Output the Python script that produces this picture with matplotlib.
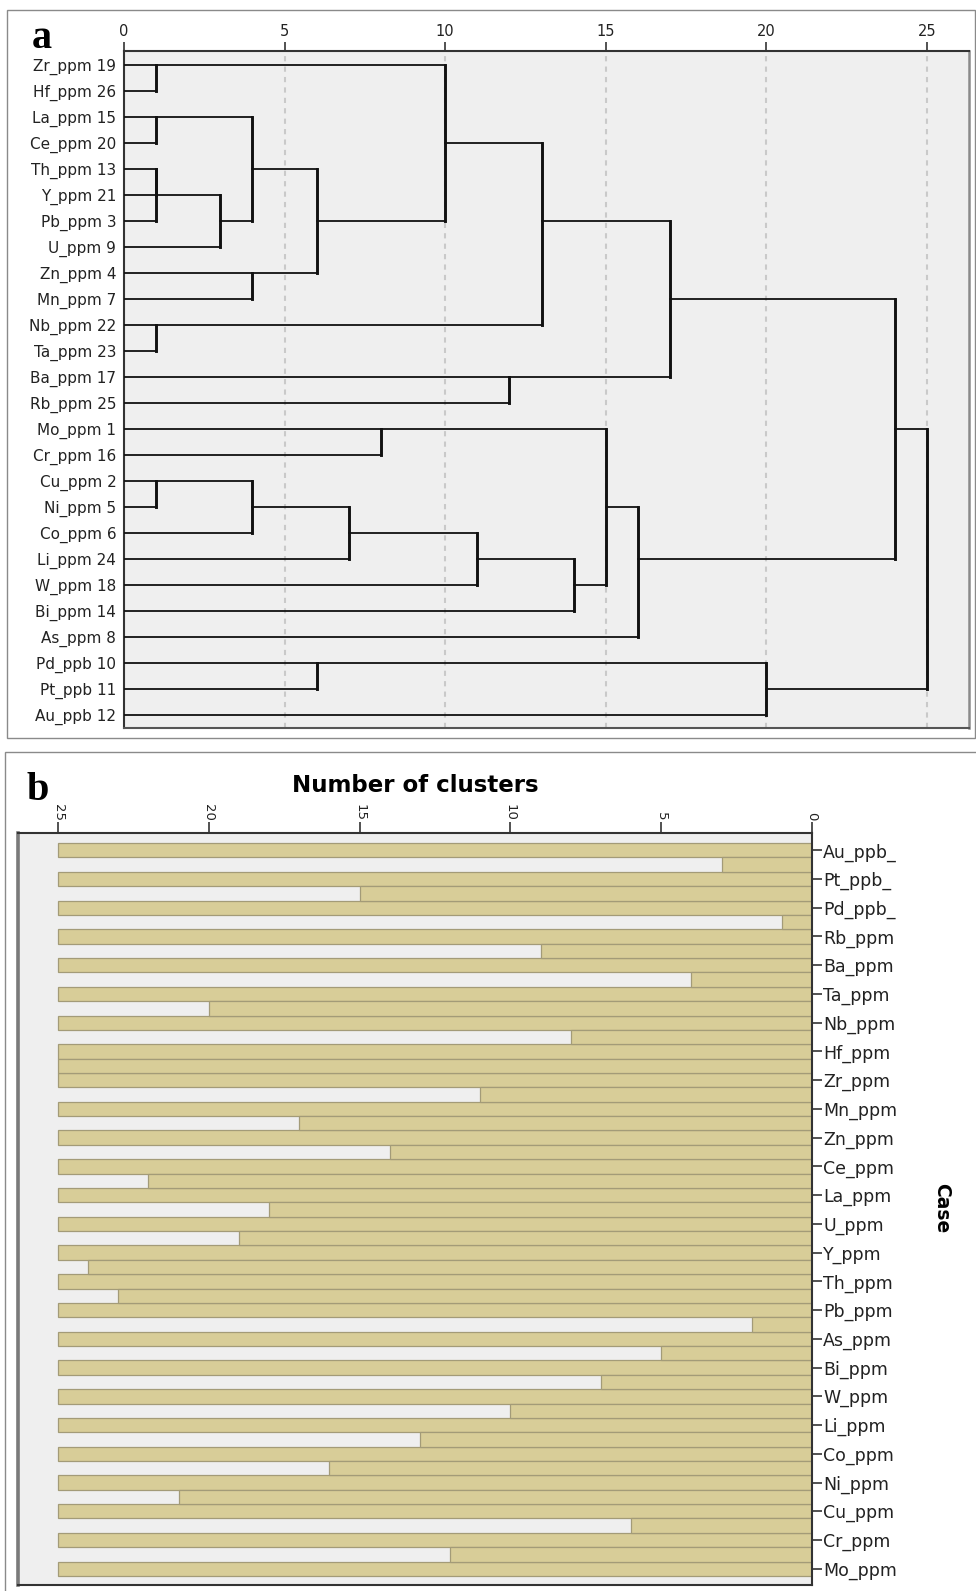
import matplotlib
matplotlib.use("Agg")
import matplotlib.pyplot as plt
from matplotlib.patches import Rectangle

# ---------------- data ----------------
leaf_labels = ["Zr_ppm 19", "Hf_ppm 26", "La_ppm 15", "Ce_ppm 20", "Th_ppm 13",
               "Y_ppm 21", "Pb_ppm 3", "U_ppm 9", "Zn_ppm 4", "Mn_ppm 7",
               "Nb_ppm 22", "Ta_ppm 23", "Ba_ppm 17", "Rb_ppm 25", "Mo_ppm 1",
               "Cr_ppm 16", "Cu_ppm 2", "Ni_ppm 5", "Co_ppm 6", "Li_ppm 24",
               "W_ppm 18", "Bi_ppm 14", "As_ppm 8", "Pd_ppb 10", "Pt_ppb 11",
               "Au_ppb 12"]
# merges: rows of the two clusters joined and rescaled distance
merge_a = [0, 2, 4, 4, 5, 2, 8, 4, 0, 10, 3, 12, 6, 14, 16, 16, 17, 18, 19, 14, 17, 23, 23, 9, 14]
merge_b = [1, 3, 5, 6, 7, 6, 9, 8, 6, 11, 10, 13, 12, 15, 17, 18, 19, 20, 21, 20, 22, 24, 25, 19, 24]
merge_dist = [1, 1, 1, 1, 3, 4, 4, 6, 10, 1, 13, 12, 17, 8, 1, 4, 7, 11, 14, 15, 16, 6, 20, 24, 25]
dendro_ticks = [0, 5, 10, 15, 20, 25]

case_labels = ["Au_ppb_", "Pt_ppb_", "Pd_ppb_", "Rb_ppm", "Ba_ppm", "Ta_ppm",
               "Nb_ppm", "Hf_ppm", "Zr_ppm", "Mn_ppm", "Zn_ppm", "Ce_ppm",
               "La_ppm", "U_ppm", "Y_ppm", "Th_ppm", "Pb_ppm", "As_ppm",
               "Bi_ppm", "W_ppm", "Li_ppm", "Co_ppm", "Ni_ppm", "Cu_ppm",
               "Cr_ppm", "Mo_ppm"]
# number of clusters up to which adjacent cases stay joined
join_clusters = [3, 15, 1, 9, 4, 20, 8, 25, 11, 17, 14, 22, 18, 19, 24, 23,
                 2, 5, 7, 10, 13, 16, 21, 6, 12]
n_clusters_max = 25
icicle_ticks = [0, 5, 10, 15, 20, 25]

# ---------------- figure ----------------
W, H = 976, 1591
fig = plt.figure(figsize=(W / 100, H / 100), dpi=100)
fig.patch.set_facecolor("white")


def fx(px):
    return px / W


def fy(py):
    return 1 - py / H


# panel frames
fig.add_artist(Rectangle((fx(7), fy(738)), fx(975) - fx(7), fy(10) - fy(738),
                         transform=fig.transFigure, fill=False,
                         edgecolor="#8a8a8a", lw=1.0))
fig.add_artist(Rectangle((fx(5), fy(1600)), fx(985) - fx(5), fy(752) - fy(1600),
                         transform=fig.transFigure, fill=False,
                         edgecolor="#8a8a8a", lw=1.0))

# ---------------- panel a: dendrogram ----------------
axa = fig.add_axes([fx(124), fy(728), fx(969) - fx(124), fy(51) - fy(728)])
axa.set_facecolor("#efefef")
axa.set_xlim(0, 845 / 32.12)
axa.set_ylim(25.5, -0.54)

for v in dendro_ticks[1:]:
    axa.axvline(v, color="#c9c9c9", lw=1.5, linestyle=(0, (2.5, 2.5)), zorder=1)

state = {}
for a, b, d in zip(merge_a, merge_b, merge_dist):
    xa = state.pop(a, 0)
    xb = state.pop(b, 0)
    axa.plot([xa, d], [a, a], color="#111111", lw=1.3, solid_capstyle="projecting", zorder=3)
    axa.plot([xb, d], [b, b], color="#111111", lw=1.3, solid_capstyle="projecting", zorder=3)
    axa.plot([d, d], [a, b], color="#111111", lw=2.1, solid_capstyle="projecting", zorder=3)
    state[(a + b) // 2] = d

axa.xaxis.tick_top()
axa.set_xticks(dendro_ticks)
axa.set_xticklabels([str(t) for t in dendro_ticks])
axa.tick_params(axis="x", direction="out", length=6.5, width=1.2, color="#333333",
                labelsize=10.5, pad=2, labelcolor="#222222")
axa.set_yticks(range(len(leaf_labels)))
axa.set_yticklabels(leaf_labels)
axa.tick_params(axis="y", length=0, labelsize=11, pad=5.5, labelcolor="#222222")
for s in ["top", "left"]:
    axa.spines[s].set_color("#333333")
    axa.spines[s].set_linewidth(1.5)
axa.spines["right"].set_color("#8a8a8a")
axa.spines["right"].set_linewidth(1.8)
axa.spines["bottom"].set_color("#555555")
axa.spines["bottom"].set_linewidth(1.5)

fig.text(fx(42), fy(48), "a", fontsize=29, fontweight="bold",
         family="Liberation Serif", ha="center", va="baseline")

# ---------------- panel b: icicle ----------------
axb = fig.add_axes([fx(18), fy(1585), fx(812) - fx(18), fy(833) - fy(1585)])
axb.set_facecolor("#efefef")
axb.set_xlim(794 / 30.16, 0)
axb.set_ylim(51.13, -1.2)

tan = "#d8cd98"
edge = "#a39b78"
case_y = [2 * i for i in range(len(case_labels))]
gap_y = [2 * i + 1 for i in range(len(join_clusters))]
axb.barh(case_y, [n_clusters_max] * len(case_y), height=1.0, left=0,
         color=tan, edgecolor=edge, lw=0.9, zorder=2)
axb.barh(gap_y, join_clusters, height=1.0, left=0,
         color=tan, edgecolor=edge, lw=0.9, zorder=2)

axb.xaxis.tick_top()
axb.set_xticks(icicle_ticks)
axb.set_xticklabels([str(t) for t in icicle_ticks], rotation=-90)
axb.tick_params(axis="x", direction="out", length=8, width=1.2, color="#333333",
                labelsize=9.5, pad=1, labelcolor="#222222")
axb.yaxis.tick_right()
axb.set_yticks(case_y)
axb.set_yticklabels(case_labels)
axb.tick_params(axis="y", direction="out", length=7, width=1.2, color="#333333",
                labelsize=12.5, pad=1, labelcolor="#222222")
axb.spines["left"].set_color("#7a7a7a")
axb.spines["left"].set_linewidth(2.6)
for s in ["top", "right", "bottom"]:
    axb.spines[s].set_color("#333333")
    axb.spines[s].set_linewidth(1.5)

fig.text(fx(415), fy(786), "Number of clusters", fontsize=16.5, fontweight="bold",
         ha="center", va="center")
fig.text(fx(942), fy(1208), "Case", rotation=-90, fontsize=13.5, fontweight="bold",
         ha="center", va="center")
fig.text(fx(38), fy(800), "b", fontsize=29, fontweight="bold",
         family="Liberation Serif", ha="center", va="baseline")

fig.savefig("out.png", dpi=100)
